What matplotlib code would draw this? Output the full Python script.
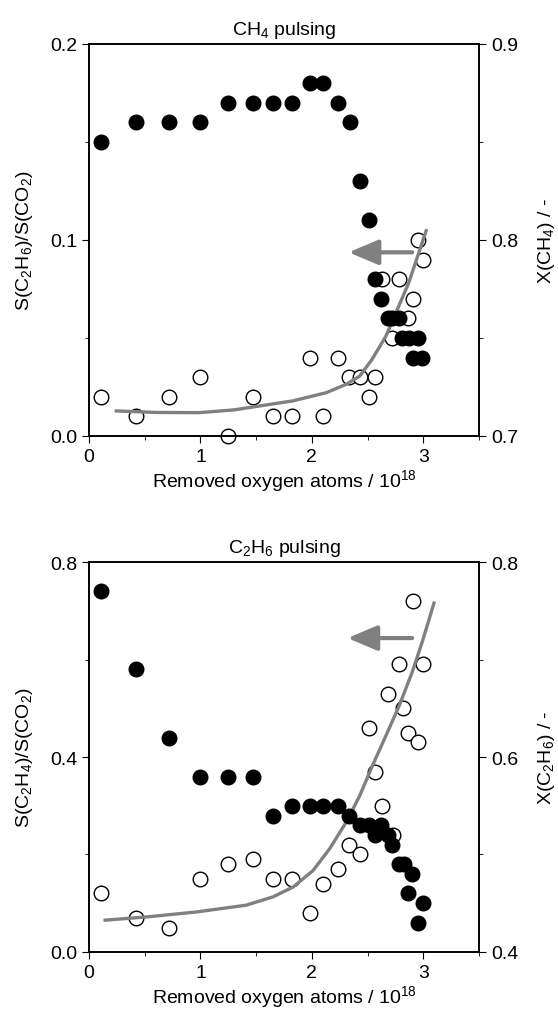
import numpy as np
import matplotlib.pyplot as plt
from matplotlib.ticker import MultipleLocator

plt.rcParams['font.family'] = ['Liberation Sans', 'DejaVu Sans']
plt.rcParams['mathtext.default'] = 'regular'
plt.rcParams['font.size'] = 14

# --- CH4 pulsing (top) ---
ch4_x_sel = [0.11, 0.42, 0.72, 1.00, 1.25, 1.47, 1.65, 1.82, 1.98, 2.10, 2.23, 2.33,
             2.43, 2.51, 2.57, 2.63, 2.72, 2.78, 2.86, 2.91, 2.95, 3.00]
ch4_sel = [0.02, 0.01, 0.02, 0.03, 0.00, 0.02, 0.01, 0.01, 0.04, 0.01, 0.04, 0.03,
           0.03, 0.02, 0.03, 0.08, 0.05, 0.08, 0.06, 0.07, 0.10, 0.09]
ch4_x_conv = [0.11, 0.42, 0.72, 1.00, 1.25, 1.47, 1.65, 1.82, 1.98, 2.10, 2.23, 2.34,
              2.43, 2.51, 2.57, 2.62, 2.68, 2.72, 2.78, 2.81, 2.87, 2.95, 2.91, 2.99]
ch4_conv = [0.85, 0.86, 0.86, 0.86, 0.87, 0.87, 0.87, 0.87, 0.88, 0.88, 0.87, 0.86,
            0.83, 0.81, 0.78, 0.77, 0.76, 0.76, 0.76, 0.75, 0.75, 0.75, 0.74, 0.74]
ch4_fit_x = [0.23, 0.60, 0.99, 1.30, 1.53, 1.83, 2.13, 2.31, 2.43, 2.54, 2.665, 2.78,
             2.87, 2.96, 3.03]
ch4_fit_y = [0.0128, 0.0120, 0.0119, 0.0133, 0.0153, 0.0179, 0.0221, 0.0264, 0.0306,
             0.0391, 0.0510, 0.0663, 0.0783, 0.0936, 0.1055]

# --- C2H6 pulsing (bottom) ---
c2h6_x_sel = [0.11, 0.42, 0.72, 1.00, 1.25, 1.47, 1.65, 1.82, 1.98, 2.10, 2.23, 2.33,
              2.43, 2.51, 2.57, 2.63, 2.68, 2.73, 2.78, 2.82, 2.86, 2.91, 2.95, 3.00]
c2h6_sel = [0.12, 0.07, 0.05, 0.15, 0.18, 0.19, 0.15, 0.15, 0.08, 0.14, 0.17, 0.22,
            0.20, 0.46, 0.37, 0.30, 0.53, 0.24, 0.59, 0.50, 0.45, 0.72, 0.43, 0.59]
c2h6_x_conv = [0.11, 0.42, 0.72, 1.00, 1.25, 1.47, 1.65, 1.82, 1.98, 2.10, 2.23, 2.33,
               2.43, 2.51, 2.57, 2.62, 2.68, 2.72, 2.78, 2.83, 2.90, 2.86, 3.00, 2.95]
c2h6_conv = [0.77, 0.69, 0.62, 0.58, 0.58, 0.58, 0.54, 0.55, 0.55, 0.55, 0.55, 0.54,
             0.53, 0.53, 0.52, 0.53, 0.52, 0.51, 0.49, 0.49, 0.48, 0.46, 0.45, 0.43]
c2h6_fit_x = [0.13, 0.52, 0.96, 1.41, 1.65, 1.83, 2.01, 2.16, 2.31, 2.43, 2.545, 2.665,
              2.785, 2.90, 2.99, 3.10]
c2h6_fit_y = [0.065, 0.072, 0.082, 0.096, 0.113, 0.133, 0.167, 0.212, 0.267, 0.321,
              0.383, 0.444, 0.506, 0.574, 0.636, 0.719]

grey = '#808080'

fig = plt.figure(figsize=(5.58, 10.2), dpi=100)

panels = [
    dict(rect=[0.1595, 0.5716, 0.699, 0.3843], title='CH$_4$ pulsing',
         xs=ch4_x_sel, s=ch4_sel, xc=ch4_x_conv, c=ch4_conv, fx=ch4_fit_x, fy=ch4_fit_y,
         ylim=(0, 0.2), ymaj=0.1, y2lim=(0.7, 0.9), y2maj=0.1,
         ylab='S(C$_2$H$_6$)/S(CO$_2$)', y2lab='X(CH$_4$) / -',
         arrow=(2.90, 2.33, 0.0937)),
    dict(rect=[0.1595, 0.0657, 0.699, 0.3823], title='C$_2$H$_6$ pulsing',
         xs=c2h6_x_sel, s=c2h6_sel, xc=c2h6_x_conv, c=c2h6_conv, fx=c2h6_fit_x, fy=c2h6_fit_y,
         ylim=(0, 0.8), ymaj=0.4, y2lim=(0.4, 0.8), y2maj=0.2,
         ylab='S(C$_2$H$_4$)/S(CO$_2$)', y2lab='X(C$_2$H$_6$) / -',
         arrow=(2.90, 2.32, 0.644)),
]

for p in panels:
    ax = fig.add_axes(p['rect'])
    ax.plot(p['xs'], p['s'], 'o', mfc='white', mec='black', mew=1.0, ms=10.5,
            clip_on=False, zorder=2)
    ax.plot(p['fx'], p['fy'], '-', color=grey, lw=2.4, zorder=3,
            solid_capstyle='butt', solid_joinstyle='round')
    x0, x1, ya = p['arrow']
    ax.annotate('', xy=(x1, ya), xytext=(x0, ya),
                arrowprops=dict(arrowstyle='-|>,head_length=1.3,head_width=0.55',
                                color=grey, lw=3, shrinkA=0, shrinkB=0))
    ax.set_xlim(0, 3.5)
    ax.set_ylim(*p['ylim'])
    ax.xaxis.set_major_locator(MultipleLocator(1))
    ax.xaxis.set_minor_locator(MultipleLocator(0.5))
    ax.yaxis.set_major_locator(MultipleLocator(p['ymaj']))
    ax.yaxis.set_minor_locator(MultipleLocator(p['ymaj'] / 2))
    ax.yaxis.set_major_formatter(plt.FormatStrFormatter('%.1f'))
    ax.tick_params(which='both', direction='out', top=False, right=False, labelsize=14)
    ax.tick_params(which='major', length=5)
    ax.tick_params(which='minor', length=3)
    ax.set_xlabel('Removed oxygen atoms / 10$^{18}$', fontsize=14, labelpad=2)
    ax.set_ylabel(p['ylab'], fontsize=14, labelpad=11)
    ax.set_title(p['title'], fontsize=14, pad=7)

    ax2 = ax.twinx()
    ax2.plot(p['xc'], p['c'], 'o', color='black', ms=10.5, clip_on=False)
    ax2.set_ylim(*p['y2lim'])
    ax2.yaxis.set_major_locator(MultipleLocator(p['y2maj']))
    ax2.yaxis.set_minor_locator(MultipleLocator(p['y2maj'] / 2))
    ax2.yaxis.set_major_formatter(plt.FormatStrFormatter('%.1f'))
    ax2.tick_params(which='both', direction='out', labelsize=14)
    ax2.tick_params(which='major', length=5)
    ax2.tick_params(which='minor', length=3)
    ax2.set_ylabel(p['y2lab'], fontsize=14, labelpad=13)
    for a in (ax, ax2):
        for sp in a.spines.values():
            sp.set_linewidth(1.2)

fig.savefig('out.png', dpi=100)
